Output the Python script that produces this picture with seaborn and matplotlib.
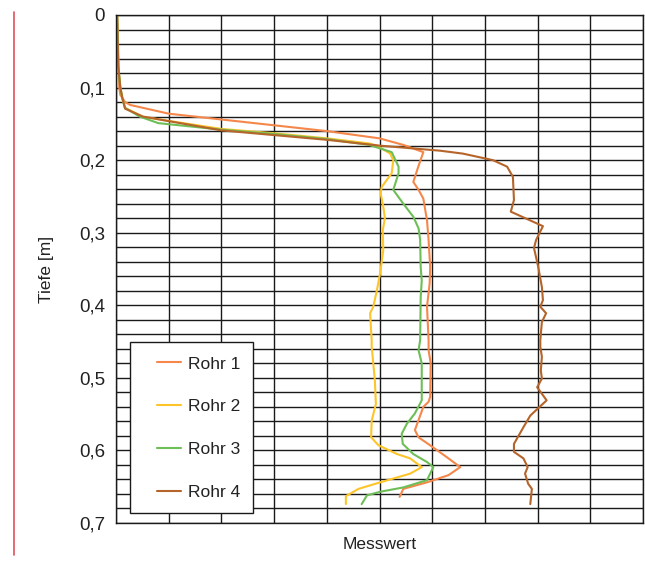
import pandas as pd
import matplotlib
matplotlib.use('Agg')
import matplotlib.pyplot as plt
from matplotlib.lines import Line2D
from matplotlib.patches import Rectangle
import seaborn as sns

# Tiefe [m] und Messwert je Rohr
rohr1_tiefe = [0, 0.05, 0.10, 0.11, 0.12, 0.124, 0.136, 0.144, 0.152, 0.160, 0.170, 0.179,
               0.189, 0.210, 0.230, 0.241, 0.253, 0.283, 0.310, 0.347, 0.370, 0.402, 0.448,
               0.462, 0.480, 0.526, 0.533, 0.540, 0.572, 0.582, 0.593, 0.609, 0.623, 0.634,
               0.644, 0.653, 0.664]
rohr1_wert = [0.2, 0.4, 0.6, 0.8, 1.7, 2.7, 10, 20, 30, 40, 50, 54.5,
              58.3, 57.3, 56.4, 57.4, 58.3, 59.0, 59.3, 59.6, 59.5, 59.0, 59.3,
              59.3, 59.7, 59.6, 59.3, 58.3, 56.7, 57.4, 59.6, 62.7, 65.3, 63.1,
              59.0, 54.5, 53.8]

rohr2_tiefe = [0, 0.07, 0.10, 0.115, 0.128, 0.14, 0.146, 0.157, 0.163, 0.170, 0.177, 0.180,
               0.191, 0.200, 0.218, 0.237, 0.246, 0.264, 0.280, 0.297, 0.324, 0.356, 0.379,
               0.402, 0.411, 0.448, 0.457, 0.503, 0.536, 0.559, 0.582, 0.593, 0.605, 0.611,
               0.623, 0.632, 0.644, 0.653, 0.663, 0.674]
rohr2_wert = [0.2, 0.4, 0.8, 1.2, 1.7, 5, 10, 20, 30, 40, 48, 49.5,
              52, 52.6, 52.3, 50.4, 50.2, 50.7, 51.0, 50.6, 50.7, 50.1, 49.5,
              48.8, 48.2, 48.5, 48.5, 49.1, 49.3, 48.5, 48.4, 49.8, 53.3, 55.8,
              58.0, 55.8, 50.1, 46.0, 43.6, 43.6]

rohr3_tiefe = [0, 0.07, 0.10, 0.115, 0.128, 0.14, 0.149, 0.158, 0.164, 0.171, 0.179, 0.189,
               0.209, 0.218, 0.241, 0.260, 0.278, 0.294, 0.310, 0.347, 0.366, 0.389, 0.448,
               0.462, 0.480, 0.531, 0.549, 0.563, 0.577, 0.591, 0.605, 0.616, 0.623, 0.641,
               0.651, 0.657, 0.662, 0.674]
rohr3_wert = [0.2, 0.4, 0.8, 1.2, 1.7, 4.5, 8, 20, 30, 40, 48, 52.3,
              53.6, 53.6, 52.6, 54.5, 56.4, 57.4, 57.7, 57.8, 58.0, 57.8, 57.7,
              57.4, 58.0, 58.0, 56.7, 55.2, 54.2, 54.4, 56.4, 59.0, 60.2, 59.0,
              54.5, 50.1, 47.6, 46.6]

rohr4_tiefe = [0, 0.07, 0.10, 0.115, 0.129, 0.14, 0.159, 0.1655, 0.172, 0.180, 0.187, 0.191,
               0.200, 0.209, 0.223, 0.255, 0.271, 0.291, 0.310, 0.321, 0.347, 0.375, 0.393,
               0.402, 0.411, 0.423, 0.448, 0.457, 0.471, 0.490, 0.501, 0.513, 0.531, 0.552,
               0.568, 0.591, 0.602, 0.611, 0.623, 0.632, 0.646, 0.653, 0.674]
rohr4_wert = [0.2, 0.4, 0.8, 1.2, 1.7, 5.1, 20, 30, 40, 50, 61.5, 65.8,
              71.5, 74.2, 75.3, 75.5, 74.9, 81.0, 79.7, 79.3, 80.1, 80.8, 81.0,
              80.5, 81.6, 80.8, 80.5, 80.5, 80.8, 80.6, 80.8, 79.9, 81.7, 78.6,
              77.3, 75.5, 75.5, 77.3, 78.1, 77.6, 78.2, 78.9, 78.6]

namen = ['Rohr 1', 'Rohr 2', 'Rohr 3', 'Rohr 4']
farben = ['#F5874A', '#FDC52A', '#6DBE57', '#B5642A']
y_ticks = [0, 0.1, 0.2, 0.3, 0.4, 0.5, 0.6, 0.7]
y_labels = ['0', '0,1', '0,2', '0,3', '0,4', '0,5', '0,6', '0,7']

TEXT_COLOR = '#222222'
LINE_COLOR = '#1a1a1a'


def build_df():
    parts = []
    for name, t, w in zip(namen,
                          [rohr1_tiefe, rohr2_tiefe, rohr3_tiefe, rohr4_tiefe],
                          [rohr1_wert, rohr2_wert, rohr3_wert, rohr4_wert]):
        parts.append(pd.DataFrame({'Tiefe': t, 'Messwert': w, 'Rohr': name}))
    return pd.concat(parts, ignore_index=True)


def main():
    df = build_df()

    sns.set_style('white')
    plt.rcParams['font.family'] = ['Liberation Sans', 'DejaVu Sans']

    fig = plt.figure(figsize=(6.45, 5.66), dpi=100)
    ax = fig.add_axes([0.180, 0.076, 0.817, 0.8975])

    sns.lineplot(data=df, x='Messwert', y='Tiefe', hue='Rohr', hue_order=namen,
                 palette=farben, orient='y', estimator=None, sort=True,
                 linewidth=1.5, ax=ax)

    ax.set_xlim(0, 100)
    ax.set_ylim(0.7, 0)
    ax.set_xticks(range(0, 101, 10))
    ax.set_xticklabels([])
    ax.set_yticks([i * 0.02 for i in range(36)], minor=True)
    ax.set_yticks(y_ticks)
    ax.set_yticklabels(y_labels, fontsize=13.5, color=TEXT_COLOR)
    ax.tick_params(axis='both', which='both', length=0, pad=8)
    ax.grid(True, which='both', color=LINE_COLOR, linewidth=1.0)
    ax.set_axisbelow(True)
    for s in ax.spines.values():
        s.set_color(LINE_COLOR)
        s.set_linewidth(1.0)

    ax.set_xlabel('Messwert', fontsize=12.5, color=TEXT_COLOR, labelpad=2)
    ax.set_ylabel('Tiefe [m]', fontsize=12.5, color=TEXT_COLOR, labelpad=18)

    # Legendenrahmen separat, Einträge ohne eigenen Rahmen
    ax.add_patch(Rectangle((0.0266, 0.0197), 0.2334, 0.3363, transform=ax.transAxes,
                           facecolor='white', edgecolor=LINE_COLOR, linewidth=1.0,
                           zorder=5))
    leg = ax.legend(loc='upper left', bbox_to_anchor=(0.0778, 0.328), borderaxespad=0,
                    fontsize=12.5, frameon=False, labelspacing=1.6, handlelength=1.4,
                    handletextpad=0.4, borderpad=0)
    leg.set_zorder(6)
    for t in leg.get_texts():
        t.set_color(TEXT_COLOR)

    # roter Randstrich links
    fig.add_artist(Line2D([14 / 645, 14 / 645], [1 - 12 / 566, 1 - 555 / 566],
                          color='#E0505A', linewidth=1.2, transform=fig.transFigure))

    fig.savefig('out.png', dpi=100)
    plt.close(fig)


if __name__ == "__main__":
    main()
